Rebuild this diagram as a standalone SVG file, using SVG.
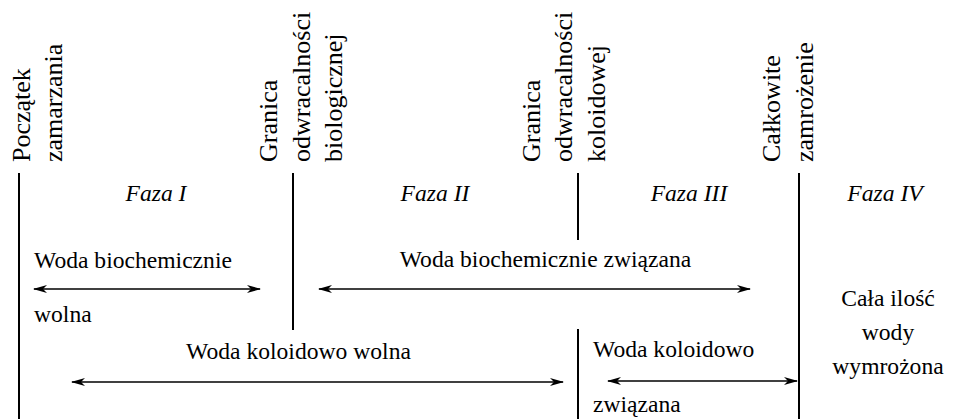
<svg xmlns="http://www.w3.org/2000/svg" width="960" height="419" viewBox="0 0 960 419">
<style>
text{font-family:"Liberation Serif","Times New Roman",serif;fill:#000}
.v{font-size:26px}
.h{font-size:23.6px}
.f{font-size:23.6px;font-style:italic;text-anchor:middle}
.c{text-anchor:middle}
.bar{stroke:#000;stroke-width:2;fill:none}
.arr{stroke:#000;stroke-width:1.3;fill:none;marker-start:url(#ah);marker-end:url(#ah)}
</style>
<defs>
<marker id="ah" markerUnits="userSpaceOnUse" viewBox="0 0 14 10" refX="13" refY="5" markerWidth="14" markerHeight="10" orient="auto-start-reverse">
<path d="M0,1 L14,5 L0,9 L4,5 z" fill="#000"/>
</marker>
</defs>
<rect width="960" height="419" fill="#fff"/>
<g id="boundary-start">
<line class="bar" x1="19" y1="173" x2="19" y2="419"/>
<text class="v" transform="translate(30,162) rotate(-90)">Początek</text>
<text class="v" transform="translate(62,162) rotate(-90)">zamarzania</text>
</g>
<g id="boundary-bio">
<line class="bar" x1="293" y1="173" x2="293" y2="330"/>
<text class="v" transform="translate(277,162) rotate(-90)">Granica</text>
<text class="v" transform="translate(310,162) rotate(-90)">odwracalności</text>
<text class="v" transform="translate(342,162) rotate(-90)">biologicznej</text>
</g>
<g id="boundary-colloid">
<line class="bar" x1="578" y1="173" x2="578" y2="240"/>
<line class="bar" x1="578" y1="329" x2="578" y2="419"/>
<text class="v" transform="translate(540,162) rotate(-90)">Granica</text>
<text class="v" transform="translate(572,162) rotate(-90)">odwracalności</text>
<text class="v" transform="translate(605,162) rotate(-90)">koloidowej</text>
</g>
<g id="boundary-end">
<line class="bar" x1="799" y1="173" x2="799" y2="419"/>
<text class="v" transform="translate(780,162) rotate(-90)">Całkowite</text>
<text class="v" transform="translate(813,162) rotate(-90)">zamrożenie</text>
</g>
<g id="phases">
<text class="f" x="156" y="201">Faza I</text>
<text class="f" x="435" y="201">Faza II</text>
<text class="f" x="689" y="201">Faza III</text>
<text class="f" x="885" y="201">Faza IV</text>
</g>
<g id="bio-free">
<text class="h" x="34" y="268">Woda biochemicznie</text>
<text class="h" x="34" y="322">wolna</text>
</g>
<g id="bio-bound">
<text class="h c" x="545.5" y="267">Woda biochemicznie związana</text>
</g>
<g id="colloid-free">
<text class="h c" x="298.5" y="359">Woda koloidowo wolna</text>
</g>
<g id="colloid-bound">
<text class="h" x="593" y="357">Woda koloidowo</text>
<text class="h" x="593" y="412">związana</text>
</g>
<g id="all-frozen">
<text class="h c" x="888" y="306">Cała ilość</text>
<text class="h c" x="888" y="340">wody</text>
<text class="h c" x="888" y="374">wymrożona</text>
</g>
<g id="connectors">
<line class="arr" x1="34" y1="289" x2="260" y2="289"/>
<line class="arr" x1="319" y1="289" x2="750" y2="289"/>
<line class="arr" x1="72" y1="382" x2="563" y2="382"/>
<line class="arr" x1="608" y1="381" x2="797" y2="381"/>
</g>
</svg>
